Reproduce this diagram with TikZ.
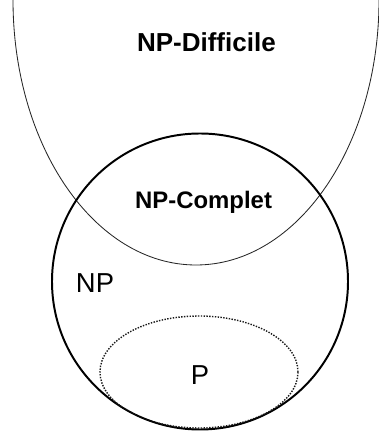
\documentclass[tikz,border=0pt]{standalone}
\usepackage{fontspec}
\setmainfont{Liberation Sans}
\usepackage{tikz}

\begin{document}
\begin{tikzpicture}
\useasboundingbox (0,0) rectangle (9.475,10.8);
% NP-hard region (open at the top)
\draw[line width=0.6pt, black!85] (0.325,10.8) arc[start angle=180, end angle=360, x radius=4.575, y radius=6.625];
\node[anchor=base, font=\bfseries\fontsize{18.5}{20}\selectfont] (npdiff) at (5.16,9.5) {NP-Difficile};

% NP class
\node[draw, circle, line width=1.4pt, minimum size=7.4cm, inner sep=0pt] (npset) at (5.0,3.7625) {};
\node[anchor=base, font=\bfseries\fontsize{17}{19}\selectfont] (npcomp) at (5.09,5.575) {NP-Complet};
\node[anchor=base, font=\fontsize{19.5}{21}\selectfont] (np) at (2.375,3.475) {NP};

% P class, cut by the NP circle
\begin{scope}
\clip (npset.center) circle (3.7);
\draw[line width=1pt, dash pattern=on 1pt off 1pt, black!90] (4.975,1.5) ellipse[x radius=2.475, y radius=1.4];
\end{scope}
\node[anchor=base, font=\fontsize{19.5}{21}\selectfont] (p) at (5.0,1.175) {P};
\end{tikzpicture}
\end{document}
